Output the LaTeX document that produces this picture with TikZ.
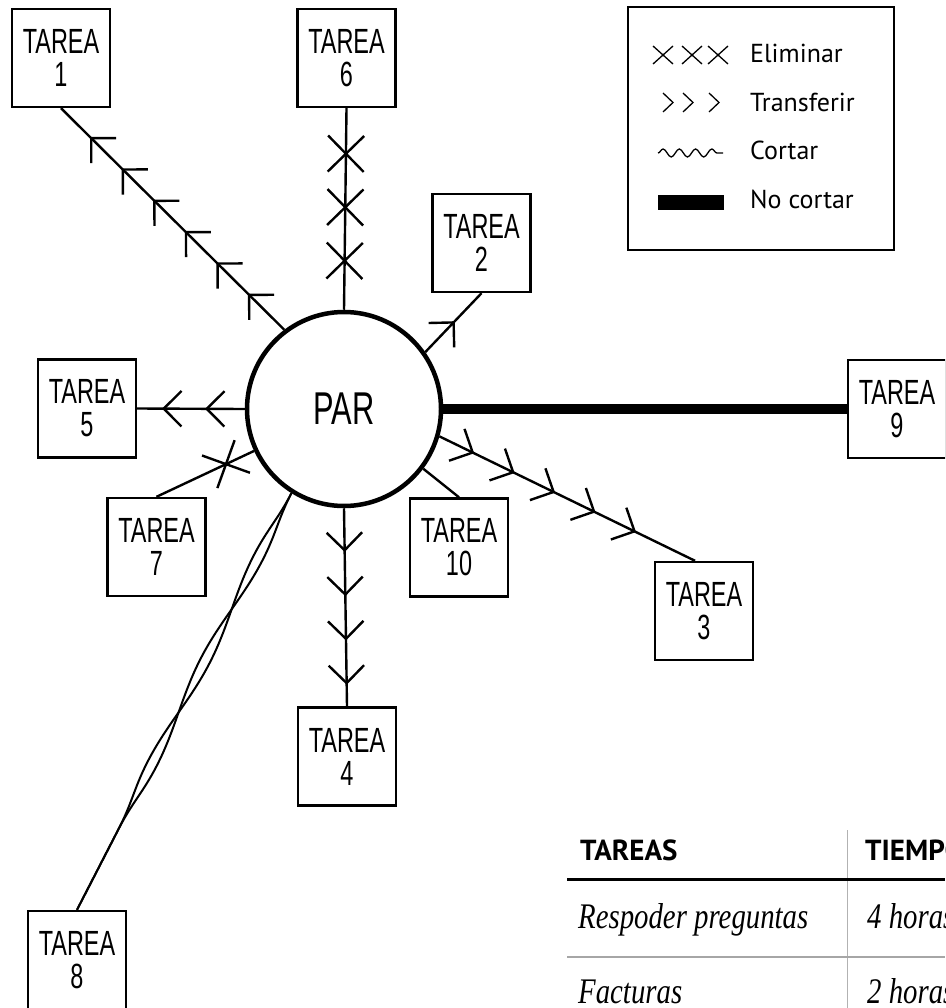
\documentclass[tikz,border=0pt]{standalone}
\usepackage{fontspec}
\setmainfont{PT Sans}
\newfontfamily\penhand[FakeStretch=0.67]{Liberation Sans}
\newfontfamily\pencursive[FakeStretch=0.8]{Liberation Serif}
\usetikzlibrary{decorations.markings,decorations.pathmorphing,calc}

\begin{document}
\begin{tikzpicture}[x=1pt,y=-1pt,
  conn/.style={line width=2.4pt},
  task/.style={draw, line width=2.4pt, minimum width=98pt, minimum height=98pt,
    inner sep=0pt, align=center, fill=white,
    font=\penhand\fontsize{35}{33}\selectfont},
  chev/.style={postaction={decorate, decoration={markings,
    mark=between positions #1 with {\draw[line width=2.4pt]
      (-17.7pt,17.7pt) -- (0pt,0pt) -- (-17.7pt,-17.7pt);}}}},
  xmk/.style={postaction={decorate, decoration={markings,
    mark=between positions #1 with {\draw[line width=2.4pt]
      (-18pt,-18pt) -- (18pt,18pt) (-18pt,18pt) -- (18pt,-18pt);}}}},
  strand/.style={line width=2pt, decorate,
    decoration={snake, amplitude=5pt, segment length=232pt, #1}},
  legtext/.style={anchor=base west, inner sep=0pt, font=\fontsize{26}{30}\selectfont},
  legsym/.style={line width=1.3pt},
  head/.style={anchor=base west, inner sep=0pt, font=\bfseries\fontsize{29}{34}\selectfont},
  cell/.style={anchor=base west, inner sep=0pt, font=\pencursive\itshape\fontsize{36}{40}\selectfont},
]
\clip (0,0) rectangle (945,1008);

% central circle
\node[circle, draw, line width=4.5pt, minimum size=194pt, inner sep=0pt, fill=white,
  font=\penhand\fontsize{46}{46}\selectfont] (par) at (344,409) {PAR};

% task boxes
\node[task] (t1)  at (61,58)     {TAREA\\1};
\node[task] (t6)  at (346.5,58)  {TAREA\\6};
\node[task] (t2)  at (481.5,243) {TAREA\\2};
\node[task] (t5)  at (87,408.5)  {TAREA\\5};
\node[task] (t9)  at (897,409)   {TAREA\\9};
\node[task] (t7)  at (156.5,547) {TAREA\\7};
\node[task] (t10) at (459,547.5) {TAREA\\10};
\node[task] (t3)  at (704,611)   {TAREA\\3};
\node[task] (t4)  at (347,756.5) {TAREA\\4};
\node[task] (t8)  at (77,960)    {TAREA\\8};

% connectors
\draw[conn, chev={49.5pt and 274pt step 44.5pt}] (par.127.7) -- (t1.south);
\draw[conn, xmk={49pt and 160pt step 53.5pt}] (par.north) -- (t6.south);
\draw[conn, chev={41pt and 50pt step 60pt}] (par.35) -- (t2.south);
\draw[conn, chev={38pt and 82pt step 43pt}] (par.west) -- (t5.east);
\draw[line width=10pt] (par.east) -- (t9.west);
\draw[conn, chev={37pt and 218pt step 45pt}] (par.-16) -- ($(t3.north)+(-9,0)$);
\draw[conn] (par.-37) -- (t10.north);
\draw[conn, chev={42pt and 176pt step 44.3pt}] (par.south) -- (t4.north);
\draw[conn, xmk={31pt and 40pt step 60pt}] (par.205.8) -- (t7.north);
% twisted pair to task 8
\draw[strand={}] (par.238.5) -- (t8.north);
\draw[strand=mirror] (par.238.5) -- (t8.north);

% legend
\node[draw, line width=2.2pt, minimum width=266pt, minimum height=243pt, inner sep=0pt] (legend) at (761,128.5) {};
\node[legtext] (lelim) at (750,63)  {Eliminar};
\node[legtext] (ltrans) at (750,112) {Transferir};
\node[legtext] (lcut) at (750,160) {Cortar};
\node[legtext] (lkeep) at (750,209) {No cortar};
\foreach \cx in {663,692,718}
  \draw[legsym] (\cx-10,46) -- (\cx+10,64) (\cx-10,64) -- (\cx+10,46);
\foreach \cx in {663,683,709}
  \draw[legsym] (\cx,93) -- (\cx+10,102.5) -- (\cx,112);
\draw[legsym, decorate, decoration={snake, amplitude=4pt, segment length=16.25pt}] (658,153) -- (723,153);
\fill (658,195) rectangle (724,210);

% table
\draw[gray!60, line width=1pt] (847,830) -- (847,1008);
\node[head] (hTareas) at (580,860) {TAREAS};
\node[head] (hTiempo) at (865,860) {TIEMPOS};
\draw[line width=3pt] (567,879) -- (945,879);
\node[cell] (r1a) at (578,928) {Respoder preguntas};
\node[cell] (r1b) at (867,928) {4 horas};
\draw[gray!70, line width=1.5pt] (567,957) -- (945,957);
\node[cell] (r2a) at (578,1003) {Facturas};
\node[cell] (r2b) at (867,1003) {2 horas};
\end{tikzpicture}
\end{document}
